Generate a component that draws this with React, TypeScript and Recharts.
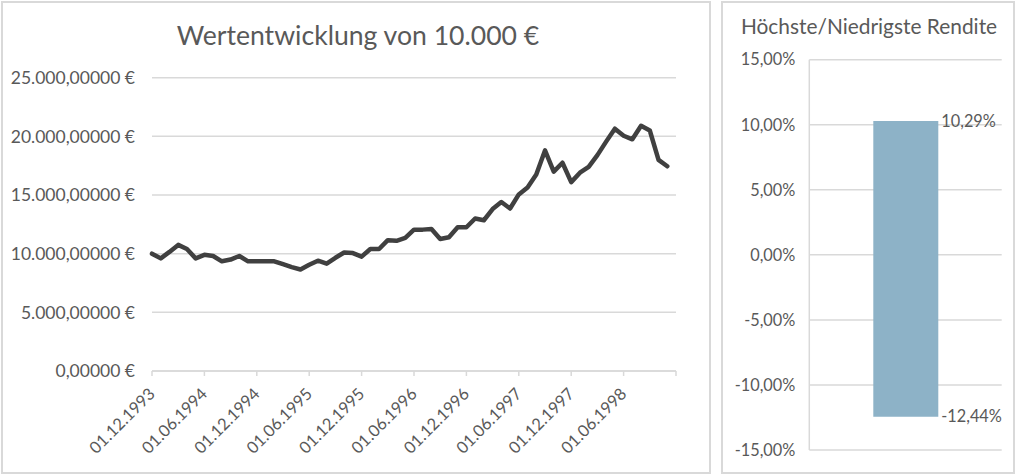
import React from "react";
import { LineChart, Line, XAxis, YAxis, CartesianGrid, BarChart, Bar } from "recharts";

// monthly dates on the value chart
const dates = [
  "01.12.1993",
  "01.01.1994", "01.02.1994", "01.03.1994", "01.04.1994", "01.05.1994", "01.06.1994",
  "01.07.1994", "01.08.1994", "01.09.1994", "01.10.1994", "01.11.1994", "01.12.1994",
  "01.01.1995", "01.02.1995", "01.03.1995", "01.04.1995", "01.05.1995", "01.06.1995",
  "01.07.1995", "01.08.1995", "01.09.1995", "01.10.1995", "01.11.1995", "01.12.1995",
  "01.01.1996", "01.02.1996", "01.03.1996", "01.04.1996", "01.05.1996", "01.06.1996",
  "01.07.1996", "01.08.1996", "01.09.1996", "01.10.1996", "01.11.1996", "01.12.1996",
  "01.01.1997", "01.02.1997", "01.03.1997", "01.04.1997", "01.05.1997", "01.06.1997",
  "01.07.1997", "01.08.1997", "01.09.1997", "01.10.1997", "01.11.1997", "01.12.1997",
  "01.01.1998", "01.02.1998", "01.03.1998", "01.04.1998", "01.05.1998", "01.06.1998",
  "01.07.1998", "01.08.1998", "01.09.1998", "01.10.1998", "01.11.1998",
];

const values = [
  10000, 9600, 10150, 10750, 10400, 9600, 9900, 9800, 9350, 9500,
  9800, 9350, 9350, 9350, 9350, 9100, 8850, 8650, 9050, 9400,
  9150, 9650, 10100, 10050, 9750, 10400, 10400, 11150, 11100, 11350,
  12050, 12050, 12100, 11250, 11400, 12250, 12250, 13000, 12850, 13800,
  14400, 13850, 15050, 15650, 16750, 18800, 17000, 17750, 16100, 16900,
  17400, 18400, 19550, 20650, 20050, 19750, 20900, 20500, 18000, 17450,
];

const xTicks = [0, 6, 12, 18, 24, 30, 36, 42, 48, 54, 60];
const yTicks = [0, 5000, 10000, 15000, 20000, 25000];

const returnNames = ["Rendite"];
const highReturns = [10.29];
const lowReturns = [-12.44];
const pctTicks = [-15, -10, -5, 0, 5, 10, 15];

const TEXT = "#595959";
const GRID = "#d9d9d9";
const FONT = "Lato";

const lineData = values.map((v, i) => ({ m: i, value: v }));
const barData = returnNames.map((name, i) => ({ name, range: [lowReturns[i], highReturns[i]] }));

const fmtEuro = (v: number) =>
  Math.round(v).toString().replace(/\B(?=(\d{3})+(?!\d))/g, ".") + ",00000 €";
const fmtPct = (v: number) => v.toFixed(2).replace(".", ",") + "%";

function DateTick(props: any) {
  const { x, y, payload } = props;
  const label = dates[payload.value] ?? "";
  const ax = x + 4;
  const ay = y + 17;
  return (
    <text
      x={ax}
      y={ay}
      transform={`rotate(-45 ${ax} ${ay})`}
      textAnchor="end"
      fill={TEXT}
      fontSize={16.5}
      fontFamily={FONT}
    >
      {label}
    </text>
  );
}

function renderRangeLabel(props: any) {
  const { x, y, width, height, index } = props;
  const top = Math.min(y, y + height);
  const bottom = Math.max(y, y + height);
  const lx = x + width + 3;
  return (
    <g key={`lbl-${index}`}>
      <text x={lx} y={top} dy="0.355em" fill={TEXT} fontSize={16.3} fontFamily={FONT}>
        {fmtPct(highReturns[index])}
      </text>
      <text x={lx} y={bottom} dy="0.355em" fill={TEXT} fontSize={16.3} fontFamily={FONT}>
        {fmtPct(lowReturns[index])}
      </text>
    </g>
  );
}

export default function App() {
  const panel = { position: "absolute" as const, border: `2px solid ${GRID}`, boxSizing: "border-box" as const };
  return (
    <div style={{ position: "absolute", left: 0, top: 0, width: 1017, height: 474, background: "#fff", fontFamily: FONT }}>
      <div style={{ ...panel, left: 1, top: 1, width: 710, height: 473 }} />
      <div style={{ ...panel, left: 721, top: 1, width: 294, height: 473 }} />

      <div style={{ position: "absolute", left: 0, top: 0 }}>
        <LineChart width={710} height={474} data={lineData} margin={{ top: 77.7, right: 34, bottom: 0, left: 0 }}>
          <CartesianGrid vertical={false} stroke={GRID} strokeWidth={1.5} />
          <XAxis
            dataKey="m"
            type="number"
            domain={[0, 60]}
            ticks={xTicks}
            interval={0}
            height={103}
            stroke={GRID}
            strokeWidth={1.5}
            tickSize={5}
            tick={(p: any) => <DateTick {...p} />}
          />
          <YAxis
            width={152}
            domain={[0, 25000]}
            ticks={yTicks}
            axisLine={false}
            tickLine={false}
            tickMargin={11}
            tickFormatter={fmtEuro}
            tick={{ fill: TEXT, fontSize: 17.5, fontFamily: FONT }}
          />
          <Line
            dataKey="value"
            type="linear"
            stroke="#404040"
            strokeWidth={4.5}
            strokeLinejoin="round"
            strokeLinecap="round"
            dot={false}
            isAnimationActive={false}
          />
        </LineChart>
      </div>

      <div style={{ position: "absolute", left: 720, top: 0 }}>
        <BarChart width={297} height={474} data={barData} margin={{ top: 59.7, right: 15.3, bottom: 24, left: 0 }}>
          <CartesianGrid vertical={false} stroke={GRID} strokeWidth={1.5} />
          <XAxis dataKey="name" hide />
          <YAxis
            width={89.3}
            domain={[-15, 15]}
            ticks={pctTicks}
            stroke={GRID}
            strokeWidth={1.5}
            tickLine={false}
            tickMargin={8}
            tickFormatter={fmtPct}
            tick={{ fill: TEXT, fontSize: 16.3, fontFamily: FONT }}
          />
          <Bar dataKey="range" fill="#8db2c7" barSize={65} isAnimationActive={false} label={renderRangeLabel} />
        </BarChart>
      </div>

      <svg width={1017} height={474} style={{ position: "absolute", left: 0, top: 0, pointerEvents: "none" }}>
        <text x={358} y={45} textAnchor="middle" fill={TEXT} fontSize={26.6} fontFamily={FONT}>
          Wertentwicklung von 10.000 €
        </text>
        <text x={869} y={34} textAnchor="middle" fill={TEXT} fontSize={20.9} fontFamily={FONT}>
          Höchste/Niedrigste Rendite
        </text>
      </svg>
    </div>
  );
}
